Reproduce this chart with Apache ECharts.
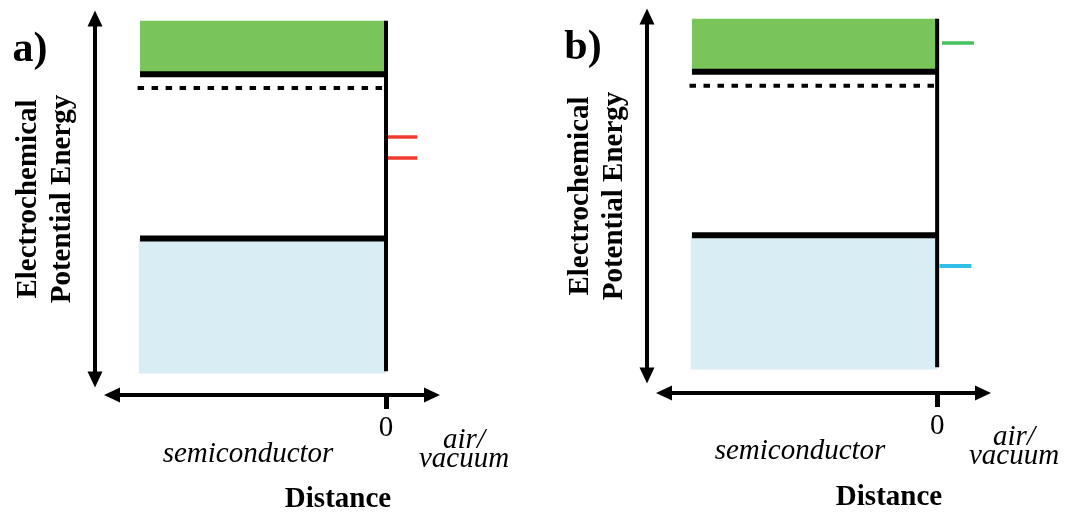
<!DOCTYPE html>
<html>
<head>
<meta charset="utf-8">
<title>Band diagrams</title>
<script src="https://cdn.jsdelivr.net/npm/echarts@6/dist/echarts.min.js"></script>
<style>
  html, body { margin: 0; padding: 0; background: #ffffff; }
  #chart { width: 1074px; height: 517px; }
</style>
</head>
<body>
<div id="chart"></div>
<script>
// Energy levels (arbitrary units) shared by both panels
const conductionBand = [9.74, 8.32];   // band top, band edge
const fermiLevel = 7.95;
const valenceBand = [3.95, 0.36];      // band edge, band bottom
const surfaceBoundary = [9.74, 0.42];  // vertical extent of the surface line
const bulkExtent = [-10, 0];           // semiconductor from bulk to surface

// Surface states drawn just outside the surface
const statesA = [6.65, 6.09];          // panel a: mid-gap states
const statesAExtent = [0, 1.27];
const statesBUpper = 9.09;             // panel b: state within conduction band
const statesBUpperExtent = [0.2, 1.5];
const statesBLower = 3.13;             // panel b: state within valence band
const statesBLowerExtent = [0.1, 1.4];

// Axis ranges and tick
const distanceRange = [-11.14, 1.87];
const energyRange = [0.2, 9.8];
const distanceTicks = [0];

const panelLabels = ['a)', 'b)'];
const energyTitle = 'Electrochemical\nPotential Energy';
const distanceTitle = 'Distance';
const regionLabels = ['semiconductor', 'air/\nvacuum'];

const SERIF = '"Liberation Serif", "DejaVu Serif", serif';
const GREEN = '#79c55a';
const PALE_BLUE = '#d8eef4';

const grids = [
  { left: 112, top: 18.5, width: 320, height: 361 },
  { left: 664, top: 16.5, width: 319, height: 359 }
];

function makeXAxis(i, offset) {
  return {
    type: 'value', gridIndex: i,
    min: distanceRange[0], max: distanceRange[1],
    offset: offset,
    splitLine: { show: false },
    axisLine: {
      show: true, onZero: false,
      symbol: ['triangle', 'triangle'], symbolSize: [15, 16],
      lineStyle: { color: '#000', width: 4 }
    },
    axisTick: {
      show: true, customValues: distanceTicks, length: 14,
      lineStyle: { color: '#000', width: 5 }
    },
    axisLabel: {
      show: true, customValues: distanceTicks, margin: 19,
      fontFamily: SERIF, fontSize: 29, color: '#000'
    }
  };
}

function makeYAxis(i) {
  return {
    type: 'value', gridIndex: i,
    min: energyRange[0], max: energyRange[1],
    offset: 17,
    splitLine: { show: false },
    axisTick: { show: false },
    axisLabel: { show: false },
    axisLine: {
      show: true, onZero: false,
      symbol: ['triangle', 'triangle'], symbolSize: [15, 16],
      lineStyle: { color: '#000', width: 4 }
    },
    name: energyTitle,
    nameLocation: 'middle',
    nameRotate: 90,
    nameGap: 15,
    nameTextStyle: {
      fontFamily: SERIF, fontWeight: 'bold', fontSize: 29,
      lineHeight: 34, color: '#000', align: 'center'
    }
  };
}

// Filled band rectangles
function bandSeries(i, x0, x1, y0, y1, color) {
  return {
    type: 'custom', xAxisIndex: i, yAxisIndex: i, silent: true, z: 1,
    data: [[x0, y0, x1, y1]],
    renderItem: function (params, api) {
      const p0 = api.coord([api.value(0), api.value(1)]);
      const p1 = api.coord([api.value(2), api.value(3)]);
      return {
        type: 'rect',
        shape: {
          x: Math.min(p0[0], p1[0]), y: Math.min(p0[1], p1[1]),
          width: Math.abs(p1[0] - p0[0]), height: Math.abs(p1[1] - p0[1])
        },
        style: { fill: color }
      };
    }
  };
}

// Straight line segment between two data points
function segment(i, pts, color, width, type, z) {
  return {
    type: 'line', xAxisIndex: i, yAxisIndex: i, silent: true,
    z: z || 3, showSymbol: false, symbol: 'none',
    data: pts,
    lineStyle: { color: color, width: width, type: type || 'solid', cap: 'butt' }
  };
}

function panelSeries(i) {
  const s = [];
  s.push(bandSeries(i, bulkExtent[0], bulkExtent[1], conductionBand[0], conductionBand[1], GREEN));
  s.push(bandSeries(i, bulkExtent[0] - 0.05, bulkExtent[1], valenceBand[0], valenceBand[1], PALE_BLUE));
  s.push(segment(i, [[bulkExtent[0], conductionBand[1]], [bulkExtent[1], conductionBand[1]]], '#000', 6));
  s.push(segment(i, [[bulkExtent[0], valenceBand[0]], [bulkExtent[1], valenceBand[0]]], '#000', 6));
  s.push(segment(i, [[bulkExtent[0] - 0.1, fermiLevel], [bulkExtent[1] - 0.1, fermiLevel]], '#000', 4, [6.5, 7.5]));
  s.push(segment(i, [[0, surfaceBoundary[0]], [0, surfaceBoundary[1]]], '#000', 4, 'solid', 4));
  return s;
}

const series = [].concat(panelSeries(0), panelSeries(1));
statesA.forEach(function (e) {
  series.push(segment(0, [[statesAExtent[0], e], [statesAExtent[1], e]], '#f03a2e', 3.5, 'solid', 2));
});
series.push(segment(1, [[statesBUpperExtent[0], statesBUpper], [statesBUpperExtent[1], statesBUpper]], '#45c25e', 3.5, 'solid', 2));
series.push(segment(1, [[statesBLowerExtent[0], statesBLower], [statesBLowerExtent[1], statesBLower]], '#2fbfe8', 4, 'solid', 2));

function text(x, y, str, opts) {
  return {
    type: 'text', x: x, y: y, silent: true,
    style: Object.assign({
      text: str, fill: '#000', fontFamily: SERIF, fontSize: 29,
      align: 'center', verticalAlign: 'middle'
    }, opts || {})
  };
}

const graphics = [
  text(30, 50, panelLabels[0], { fontWeight: 'bold', fontSize: 42 }),
  text(583, 48, panelLabels[1], { fontWeight: 'bold', fontSize: 42 }),
  text(248, 454, regionLabels[0], { fontStyle: 'italic' }),
  text(800, 451, regionLabels[0], { fontStyle: 'italic' }),
  text(464, 450, regionLabels[1], { fontStyle: 'italic', lineHeight: 19 }),
  text(1014, 447, regionLabels[1], { fontStyle: 'italic', lineHeight: 19 }),
  text(338, 500, distanceTitle, { fontWeight: 'bold' }),
  text(889, 498, distanceTitle, { fontWeight: 'bold' })
];

const chart = echarts.init(document.getElementById('chart'), null, { renderer: 'canvas' });
chart.setOption({
  animation: false,
  backgroundColor: '#ffffff',
  grid: grids,
  xAxis: [makeXAxis(0, 15.5), makeXAxis(1, 17.5)],
  yAxis: [makeYAxis(0), makeYAxis(1)],
  series: series,
  graphic: graphics
});
</script>
</body>
</html>
